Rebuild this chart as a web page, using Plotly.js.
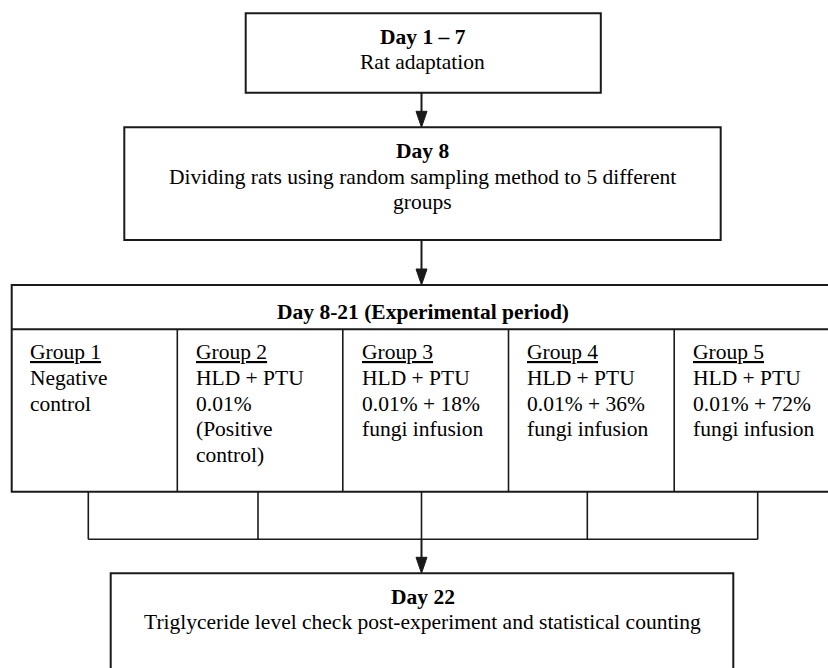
<!DOCTYPE html>
<html>
<head>
<meta charset="utf-8">
<script src="https://cdn.plot.ly/plotly-3.0.1.min.js"></script>
<style>html,body{margin:0;padding:0;background:#fff;}#chart{width:828px;height:668px;}</style>
</head>
<body>
<div id="chart"></div>
<script>
// ---- content ----
var stepTitles = ["Day 1 \u2013 7", "Day 8", "Day 8-21 (Experimental period)", "Day 22"];
var stepLines = [
  ["Rat adaptation"],
  ["Dividing rats using random sampling method to 5 different", "groups"],
  [],
  ["Triglyceride level check post-experiment and statistical counting"]
];
var groupNames = ["Group 1", "Group 2", "Group 3", "Group 4", "Group 5"];
var groupLines = [
  ["Negative", "control"],
  ["HLD + PTU", "0.01%", "(Positive", "control)"],
  ["HLD + PTU", "0.01% + 18%", "fungi infusion"],
  ["HLD + PTU", "0.01% + 36%", "fungi infusion"],
  ["HLD + PTU", "0.01% + 72%", "fungi infusion"]
];

// ---- geometry (pixels in a 828x668 frame) ----
var W = 828, H = 668;
var cx = 421.5;
var boxes = [
  {x0: 245.7, x1: 600.8, y0: 13.3, y1: 92.7, titleY: 36.7, lineY0: 61.7},
  {x0: 124.3, x1: 720.7, y0: 127.3, y1: 240, titleY: 150.7, lineY0: 176.7},
  {x0: 11.7, x1: 840, y0: 285, y1: 491.7, titleY: 311.7, lineY0: 0},
  {x0: 110.7, x1: 733.3, y0: 573.3, y1: 690, titleY: 596.7, lineY0: 622.3}
];
var headerLineY = 329.3;
var colDividers = [177.3, 342.8, 508.5, 674.2];
var colTextX = [28.3, 193.8, 359.8, 525.3, 691];
var groupY0 = 351.7, lineStep = 25.9;
var bracketX = [88.3, 258, 421.5, 587.3, 757.7];
var bracketTop = 491.7, bracketBottom = 539.3;
var FONT = "Liberation Serif";
var FS = 21.5;
var INK = "#1a1a1a";

var shapes = [];
var annotations = [];

function line(x0, y0, x1, y1, w) {
  shapes.push({type: "line", xref: "x", yref: "y", x0: x0, y0: y0, x1: x1, y1: y1,
    line: {color: INK, width: w}});
}
function arrowHead(x, yTip) {
  shapes.push({type: "path", xref: "x", yref: "y",
    path: "M " + (x - 5.5) + " " + (yTip - 16) + " L " + (x + 5.5) + " " + (yTip - 16) + " L " + x + " " + yTip + " Z",
    fillcolor: INK, line: {color: INK, width: 1}});
}
function text(x, y, t, anchor, bold) {
  annotations.push({xref: "x", yref: "y", x: x, y: y, text: bold ? "<b>" + t + "</b>" : t,
    showarrow: false, xanchor: anchor, yanchor: "middle",
    font: {family: FONT, size: FS, color: "#000"}});
}

boxes.forEach(function (b, i) {
  shapes.push({type: "rect", xref: "x", yref: "y", x0: b.x0, x1: b.x1, y0: b.y0, y1: b.y1,
    line: {color: INK, width: 2}, fillcolor: "rgba(0,0,0,0)"});
  text(cx + 1, b.titleY, stepTitles[i], "center", true);
  stepLines[i].forEach(function (t, k) {
    text(cx + 1, b.lineY0 + k * 25.5, t, "center", false);
  });
});

// header divider and column dividers
line(boxes[2].x0, headerLineY, 840, headerLineY, 2);
colDividers.forEach(function (x) { line(x, headerLineY, x, boxes[2].y1, 1.6); });

// group texts
groupNames.forEach(function (g, i) {
  text(colTextX[i], groupY0, "<u>" + g + "</u>", "left", false);
  groupLines[i].forEach(function (t, k) {
    text(colTextX[i], groupY0 + (k + 1) * lineStep, t, "left", false);
  });
});

// bracket
bracketX.forEach(function (x) { line(x, bracketTop, x, bracketBottom, 1.6); });
line(bracketX[0], bracketBottom, bracketX[bracketX.length - 1], bracketBottom, 1.6);

// connectors with arrows
line(cx, boxes[0].y1, cx, boxes[1].y0 - 4, 2);
arrowHead(cx, boxes[1].y0);
line(cx, boxes[1].y1, cx, boxes[2].y0 - 4, 2);
arrowHead(cx, boxes[2].y0);
line(cx, bracketBottom, cx, boxes[3].y0 - 4, 2);
arrowHead(cx, boxes[3].y0);

var layout = {
  width: W, height: H,
  margin: {l: 0, r: 0, t: 0, b: 0, pad: 0},
  paper_bgcolor: "#fff", plot_bgcolor: "#fff",
  xaxis: {range: [0, W], visible: false, fixedrange: true},
  yaxis: {range: [H, 0], visible: false, fixedrange: true},
  showlegend: false,
  shapes: shapes,
  annotations: annotations
};
Plotly.newPlot("chart", [], layout, {displayModeBar: false, staticPlot: true});
</script>
</body>
</html>
